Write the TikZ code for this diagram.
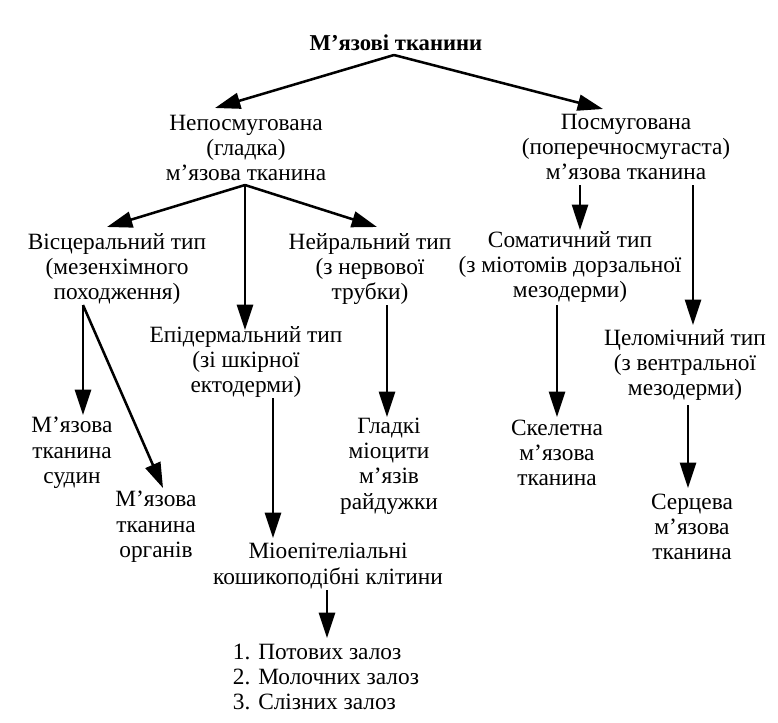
\documentclass[tikz,border=0pt]{standalone}
\usepackage{fontspec}
\setmainfont{Liberation Serif}
\usetikzlibrary{arrows.meta,calc}

\begin{document}
\begin{tikzpicture}[x=0.75pt, y=-0.75pt, >={Triangle[length=19pt,width=12pt]}, line width=1.9pt,
	tissue/.style={align=center, inner sep=0pt, font=\fontsize{17.5}{19}\selectfont},
	heading/.style={tissue, font=\bfseries\fontsize{17}{19}\selectfont}]
	\useasboundingbox (0,0) rectangle (778,722);
	
	% Nodes
	\node [heading]	(title)	at (396,43)	{М’язові тканини};
	\node [tissue]	(neposm)	at (246,148)	{Непосмугована\\(гладка)\\м’язова тканина};
	\node [tissue]	(posm)	at (626,147)	{Посмугована\\(поперечносмугаста)\\м’язова тканина};
	\node [tissue]	(visc)	at (117,269)	{Вісцеральний тип\\(мезенхімного\\походження)};
	\node [tissue]	(neur)	at (370,269)	{Нейральний тип\\(з нервової\\трубки)};
	\node [tissue]	(epid)	at (246,362)	{Епідермальний тип\\(зі шкірної\\ектодерми)};
	\node [tissue]	(somat)	at (570,267)	{Соматичний тип\\(з міотомів дорзальної\\мезодерми)};
	\node [tissue]	(celom)	at (685,365)	{Целомічний тип\\(з вентральної\\мезодерми)};
	\node [tissue]	(sudyn)	at (72,453)	{М’язова\\тканина\\судин};
	\node [tissue]	(organ)	at (156,527)	{М’язова\\тканина\\органів};
	\node [tissue]	(glad)	at (389,466)	{Гладкі\\міоцити\\м’язів\\райдужки};
	\node [tissue]	(skel)	at (557,453)	{Скелетна\\м’язова\\тканина};
	\node [tissue]	(serts)	at (692,527)	{Серцева\\м’язова\\тканина};
	\node [tissue]	(mioep)	at (328,566)	{Міоепітеліальні\\кошикоподібні клітини};
	\node [tissue, align=left]	(zaloz)	at (326,677)	{1. Потових залоз\\2. Молочних залоз\\3. Слізних залоз};
	
	% Paths
	\path [->]	($(title)+(-2,12)$)	edge	($(neposm)+(-31,-40)$);
	\path [->]	($(title)+(-2,12)$)	edge	($(posm)+(-23,-38)$);
	\path [->]	($(neposm)+(-1,37)$)	edge	($(visc)+(-10,-42)$);
	\path [->]	($(neposm)+(-1,37)$)	edge	($(epid)+(-1,-32)$);
	\path [->]	($(neposm)+(-1,37)$)	edge	($(neur)+(7,-42)$);
	\path [->]	($(posm)+(-46,38)$)	edge	($(somat)+(10,-37)$);
	\path [->]	($(posm)+(67,38)$)	edge	($(celom)+(8,-40)$);
	\path [->]	($(visc)+(-34,36)$)	edge	($(sudyn)+(11,-38)$);
	\path [->]	($(visc)+(-34,36)$)	edge	($(organ)+(7,-39)$);
	\path [->]	($(epid)+(27,36)$)	edge	($(mioep)+(-55,-28)$);
	\path [->]	($(neur)+(17,36)$)	edge	($(glad)+(-2,-49)$);
	\path [->]	($(somat)+(-13,38)$)	edge	($(skel)+(0,-36)$);
	\path [->]	($(celom)+(3,40)$)	edge	($(serts)+(-4,-39)$);
	\path [->]	($(mioep)+(-1,24)$)	edge	($(zaloz)+(1,-39)$);
	
\end{tikzpicture}
\end{document}
